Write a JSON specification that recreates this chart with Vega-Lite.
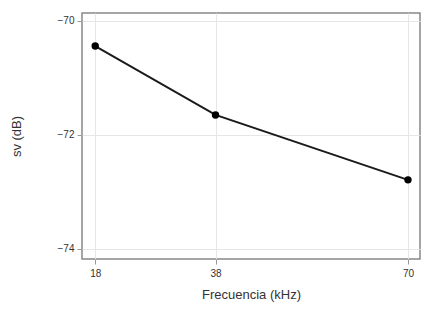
{
  "$schema": "https://vega.github.io/schema/vega-lite/v6.json",
  "autosize": {"type": "none"},
  "padding": {"left": 82, "top": 13, "right": 10, "bottom": 68},
  "width": 338,
  "height": 246,
  "background": "white",
  "data": {"values": [
    {"freq": 18, "sv": -70.44},
    {"freq": 38, "sv": -71.65},
    {"freq": 70, "sv": -72.79}
  ]},
  "config": {
    "view": {"stroke": "#888888", "strokeWidth": 1.5},
    "font": "Liberation Sans",
    "axis": {
      "gridColor": "#e6e6e6",
      "gridWidth": 1,
      "domain": false,
      "tickColor": "#999999",
      "tickSize": 5,
      "labelColor": "#333333",
      "labelFontSize": 10,
      "titleColor": "#333333",
      "titleFontSize": 13,
      "titleFontWeight": "normal"
    }
  },
  "encoding": {
    "x": {
      "field": "freq", "type": "quantitative",
      "scale": {"domain": [15.8, 72], "nice": false, "zero": false},
      "axis": {"values": [18, 38, 70], "title": "Frecuencia (kHz)", "titlePadding": 10, "labelPadding": 4}
    },
    "y": {
      "field": "sv", "type": "quantitative",
      "scale": {"domain": [-74.18, -69.86], "nice": false, "zero": false},
      "axis": {"values": [-74, -72, -70], "title": "sv (dB)", "titlePadding": 34, "labelPadding": 3}
    }
  },
  "layer": [
    {"mark": {"type": "line", "color": "#1a1a1a", "strokeWidth": 2}},
    {"mark": {"type": "point", "filled": true, "color": "#000000", "size": 55, "opacity": 1}}
  ]
}
